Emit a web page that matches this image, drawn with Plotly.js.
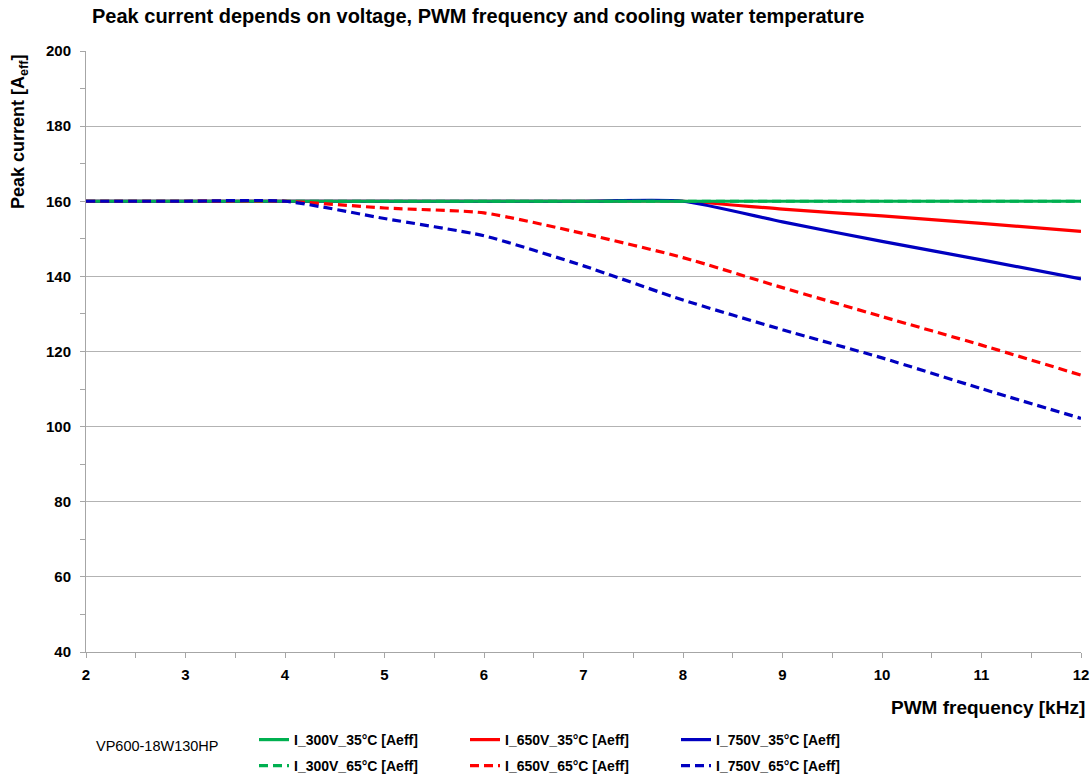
<!DOCTYPE html>
<html>
<head>
<meta charset="utf-8">
<script src="https://cdn.plot.ly/plotly-3.0.1.min.js"></script>
<style>html,body{margin:0;padding:0;background:#fff;}#chart{width:1092px;height:778px;}</style>
</head>
<body>
<div id="chart"></div>
<script>
// PWM frequency [kHz]
const freq = [2, 3, 4, 5, 6, 7, 8, 9, 10, 11, 12];
// Peak current [Aeff]
const I_300V_35 = [160, 160, 160, 160, 160, 160, 160, 160, 160, 160, 160];
const I_650V_35 = [160, 160, 160, 160, 160, 160, 160, 157.9, 156.1, 154.1, 152.0];
const I_750V_35 = [160, 160, 160, 160, 160, 160, 160, 154.5, 149.3, 144.4, 139.3];
const I_300V_65 = [160, 160, 160, 160, 160, 160, 160, 160, 160, 160, 160];
const I_650V_65 = [160, 160, 160, 158.2, 156.9, 151.4, 145.0, 137.0, 129.3, 121.7, 113.7];
const I_750V_65 = [160, 160, 160, 155.4, 150.8, 142.8, 133.7, 125.8, 118.3, 110.1, 102.2];

const seriesNames = ['I_300V_35°C [Aeff]', 'I_650V_35°C [Aeff]', 'I_750V_35°C [Aeff]',
                     'I_300V_65°C [Aeff]', 'I_650V_65°C [Aeff]', 'I_750V_65°C [Aeff]'];
const xTicks = [2, 3, 4, 5, 6, 7, 8, 9, 10, 11, 12];
const yTicks = [40, 60, 80, 100, 120, 140, 160, 180, 200];

const GREEN = '#00B050', RED = '#FF0000', BLUE = '#0000C0';
const DASH = '9px,5px';

function tr(y, name, color, dash, rank, leg) {
  return {
    x: freq, y: y, name: name, type: 'scatter', mode: 'lines',
    line: {color: color, width: 3.2, dash: dash, shape: 'spline', smoothing: 0.6},
    legendrank: rank, legend: leg, hoverinfo: 'skip'
  };
}

const data = [
  tr(I_650V_35, seriesNames[1], RED, 'solid', 2, 'legend'),
  tr(I_750V_35, seriesNames[2], BLUE, 'solid', 3, 'legend'),
  tr(I_300V_35, seriesNames[0], GREEN, 'solid', 1, 'legend'),
  tr(I_300V_65, seriesNames[3], GREEN, DASH, 4, 'legend2'),
  tr(I_650V_65, seriesNames[4], RED, DASH, 5, 'legend2'),
  tr(I_750V_65, seriesNames[5], BLUE, DASH, 6, 'legend2')
];

const FONT = 'Liberation Sans, Arial, sans-serif';
const legendCommon = {
  orientation: 'h', x: (254 - 86) / 995, xanchor: 'left', yanchor: 'middle',
  entrywidth: 166, entrywidthmode: 'pixels',
  font: {family: FONT, size: 14, weight: 'bold', color: '#000'},
  traceorder: 'normal', itemwidth: 30, tracegroupgap: 0,
  bgcolor: 'rgba(0,0,0,0)'
};

const layout = {
  width: 1092, height: 778,
  paper_bgcolor: '#ffffff', plot_bgcolor: '#ffffff',
  margin: {l: 86, r: 11, t: 51, b: 126, autoexpand: false},
  font: {family: FONT, color: '#000000'},
  title: {
    text: 'Peak current depends on voltage, PWM frequency and cooling water temperature',
    font: {family: FONT, size: 20, weight: 'bold', color: '#000'},
    xref: 'container', yref: 'container', x: 92/1092, xanchor: 'left',
    y: 1 - 16/778, yanchor: 'middle'
  },
  xaxis: {
    range: [2, 12], tickvals: xTicks, ticktext: xTicks.map(String),
    showgrid: false, zeroline: false,
    showline: true, linecolor: '#a6a6a6', linewidth: 1,
    ticks: 'outside', ticklen: 5, tickcolor: '#a6a6a6', ticklabelstandoff: 4,
    minor: {dtick: 0.5, ticks: 'outside', ticklen: 5, tickcolor: '#a6a6a6', showgrid: false},
    tickfont: {family: FONT, size: 15, weight: 'bold', color: '#000'},
    fixedrange: true
  },
  yaxis: {
    range: [40, 200], tickvals: yTicks, ticktext: yTicks.map(String),
    showgrid: true, gridcolor: '#b3b3b3', gridwidth: 1, zeroline: false,
    showline: true, linecolor: '#a6a6a6', linewidth: 1,
    ticks: 'outside', ticklen: 5, tickcolor: '#a6a6a6', ticklabelstandoff: 6,
    minor: {dtick: 10, ticks: 'outside', ticklen: 5, tickcolor: '#a6a6a6', showgrid: false},
    tickfont: {family: FONT, size: 15, weight: 'bold', color: '#000'},
    fixedrange: true
  },
  showlegend: true,
  legend: Object.assign({}, legendCommon, {y: (652 - 740) / 601}),
  legend2: Object.assign({}, legendCommon, {y: (652 - 766) / 601}),
  annotations: [
    {text: 'Peak current [A<sub>eff</sub>]', xref: 'paper', yref: 'paper',
     x: (19 - 86) / 995, y: (652 - 132) / 601, xanchor: 'center', yanchor: 'middle',
     textangle: -90, showarrow: false,
     font: {family: FONT, size: 18, weight: 'bold', color: '#000'}},
    {text: 'PWM frequency [kHz]', xref: 'paper', yref: 'paper',
     x: (1087 - 86) / 995, y: (652 - 707) / 601, xanchor: 'right', yanchor: 'middle',
     showarrow: false,
     font: {family: FONT, size: 19, weight: 'bold', color: '#000'}},
    {text: 'VP600-18W130HP', xref: 'paper', yref: 'paper',
     x: (94 - 86) / 995, y: (652 - 746) / 601, xanchor: 'left', yanchor: 'middle',
     showarrow: false,
     font: {family: FONT, size: 14.5, color: '#000'}}
  ]
};

Plotly.newPlot('chart', data, layout, {displayModeBar: false, staticPlot: true});
</script>
</body>
</html>
